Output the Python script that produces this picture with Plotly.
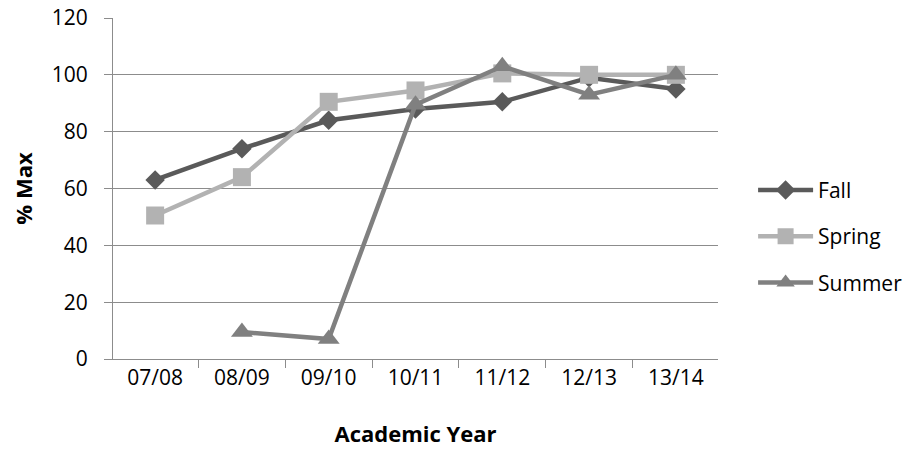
import plotly.graph_objects as go

years = ["07/08", "08/09", "09/10", "10/11", "11/12", "12/13", "13/14"]
fall = [63, 74, 84, 88, 90.5, 99, 95]
spring = [50.5, 64, 90.5, 94.5, 100.5, 100, 100]
summer = [None, 9.5, 7, 89.5, 103, 93, 100]

y_ticks = [0, 20, 40, 60, 80, 100, 120]

FONT = "Open Sans"

fig = go.Figure()

series = [
    ("Fall", fall, "#5a5a5a", "diamond", 15),
    ("Spring", spring, "#b2b2b2", "square", 18),
    ("Summer", summer, "#808080", "triangle-up", 19),
]
for name, vals, color, sym, size in series:
    fig.add_trace(go.Scatter(
        x=years, y=vals, name=name, mode="lines+markers",
        legendgroup=name,
        line=dict(color=color, width=4.5),
        marker=dict(symbol=sym, size=size, color=color, line=dict(width=0)),
        connectgaps=False,
    ))

fig.update_layout(
    width=913, height=449,
    margin=dict(l=113, r=195, t=18, b=90, autoexpand=False),
    paper_bgcolor="white", plot_bgcolor="white",
    font=dict(family=FONT, size=21, color="#000000"),
    legend=dict(
        x=1.058, y=0.36, xanchor="left", yanchor="middle",
        font=dict(family=FONT, size=21, color="#000000"),
        itemwidth=55, tracegroupgap=16, traceorder="grouped",
        bgcolor="rgba(0,0,0,0)",
    ),
    showlegend=True,
)

fig.update_xaxes(
    type="category", categoryorder="array", categoryarray=years,
    showline=True, linecolor="#8c8c8c", linewidth=1.2,
    ticks="outside", tickson="boundaries", ticklen=8, tickcolor="#8c8c8c",
    showgrid=False, zeroline=False, automargin=False,
    tickfont=dict(family=FONT, size=21, color="#000000"),
    title=dict(text="<b>Academic Year</b>", font=dict(family=FONT, size=22), standoff=36),
)
fig.update_yaxes(
    range=[0, 120], tickvals=y_ticks, ticktext=[str(v) for v in y_ticks],
    showline=True, linecolor="#8c8c8c", linewidth=1.2,
    ticks="outside", ticklen=8, tickcolor="#8c8c8c",
    showgrid=True, gridcolor="#8c8c8c", gridwidth=1.2,
    zeroline=False, automargin=False,
    tickfont=dict(family=FONT, size=21, color="#000000"),
    ticklabelstandoff=12,
    title=dict(text="<b>% Max</b>", font=dict(family=FONT, size=22), standoff=12),
)

fig.write_html("out.html")
